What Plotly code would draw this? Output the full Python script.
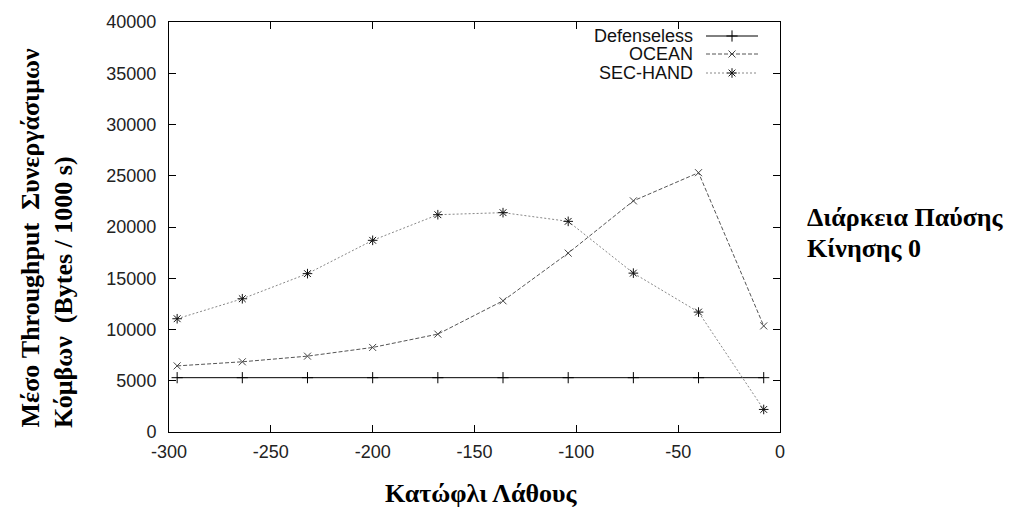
import plotly.graph_objects as go

# ---- data ----
x_vals = [-296, -264, -232, -200, -168, -136, -104, -72, -40, -8]
defenseless = [5300, 5300, 5300, 5300, 5300, 5300, 5300, 5300, 5300, 5300]
ocean = [6450, 6850, 7400, 8250, 9550, 12800, 17450, 22550, 25300, 10350]
sec_hand = [11050, 13000, 15450, 18700, 21200, 21400, 20550, 15500, 11700, 2200]

series_names = ["Defenseless", "OCEAN", "SEC-HAND"]
x_ticks = [-300, -250, -200, -150, -100, -50, 0]
x_tick_labels = ["-300", "-250", "-200", "-150", "-100", "-50", "0"]
y_ticks = [0, 5000, 10000, 15000, 20000, 25000, 30000, 35000, 40000]
y_tick_labels = ["0", "5000", "10000", "15000", "20000", "25000", "30000", "35000", "40000"]

# ---- styles ----
styles = [
    dict(color="#000000", dash="solid", symbol="cross-thin", msize=8, mcolor="#000000"),
    dict(color="#555555", dash="4px,2px", symbol="x-thin", msize=7, mcolor="#444444"),
    dict(color="#888888", dash="2px,2px", symbol="asterisk", msize=8, mcolor="#111111"),
]
series_values = [defenseless, ocean, sec_hand]

W, H = 1010, 507
L, R, T, B = 169, 230, 22, 75
pw = W - L - R
ph = H - T - B

fig = go.Figure()
for name, vals, st in zip(series_names, series_values, styles):
    fig.add_trace(go.Scatter(
        x=x_vals, y=vals, name=name, mode="lines+markers",
        line=dict(color=st["color"], width=1, dash=st["dash"]),
        marker=dict(symbol=st["symbol"], size=st["msize"], color=st["mcolor"],
                    line=dict(color=st["mcolor"], width=1)),
        showlegend=False, cliponaxis=False,
    ))

# ---- custom legend (text left, sample on right, gnuplot style) ----
def px2x(px):
    return (px - L) / pw

def py2y(py):
    return (H - B - py) / ph

row_py = [36, 54, 73]
for name, st, py in zip(series_names, styles, row_py):
    yy = py2y(py)
    fig.add_trace(go.Scatter(
        x=[px2x(706), px2x(758)], y=[yy, yy], xaxis="x2", yaxis="y2",
        mode="lines", line=dict(color=st["color"], width=1, dash=st["dash"]),
        showlegend=False, hoverinfo="skip",
    ))
    fig.add_trace(go.Scatter(
        x=[px2x(732)], y=[yy], xaxis="x2", yaxis="y2", mode="markers",
        marker=dict(symbol=st["symbol"], size=st["msize"], color=st["mcolor"],
                    line=dict(color=st["mcolor"], width=1)),
        showlegend=False, hoverinfo="skip",
    ))
    fig.add_annotation(
        x=px2x(695), y=yy, xref="paper", yref="paper", text=name,
        showarrow=False, xanchor="right", yanchor="middle",
        font=dict(family="Liberation Sans, Arial, sans-serif", size=18, color="#111111"),
    )

axis_common = dict(
    showline=True, linecolor="black", linewidth=1, mirror="ticks",
    ticks="inside", ticklen=7, tickcolor="black", tickwidth=1,
    showgrid=False, zeroline=False,
    tickfont=dict(family="Liberation Sans, Arial, sans-serif", size=18, color="#222222"),
)

fig.update_layout(
    width=W, height=H,
    margin=dict(l=L, r=R, t=T, b=B),
    paper_bgcolor="white", plot_bgcolor="white",
    xaxis=dict(range=[-300, 0], tickvals=x_ticks, ticktext=x_tick_labels,
               ticklabelstandoff=3, **axis_common),
    yaxis=dict(range=[0, 40000], tickvals=y_ticks, ticktext=y_tick_labels,
               ticklabelstandoff=8, **axis_common),
    xaxis2=dict(range=[0, 1], overlaying="x", visible=False, fixedrange=True),
    yaxis2=dict(range=[0, 1], overlaying="y", visible=False, fixedrange=True),
    showlegend=False,
)

title_font = dict(family="Liberation Serif, Times New Roman, serif", size=26, color="black")

# x title
fig.add_annotation(x=px2x(481), y=py2y(494), xref="paper", yref="paper",
                   text="<b>Κατώφλι Λάθους</b>", showarrow=False,
                   xanchor="center", yanchor="middle", font=title_font)
# y title (two lines)
fig.add_annotation(x=px2x(30), y=py2y(430), xref="paper", yref="paper",
                   text="<b>Μέσο Throughput  Συνεργάσιμων</b>", showarrow=False,
                   textangle=-90, xanchor="center", yanchor="bottom", font=title_font)
fig.add_annotation(x=px2x(63), y=py2y(430), xref="paper", yref="paper",
                   text="<b>Κόμβων  (Bytes / 1000 s)</b>", showarrow=False,
                   textangle=-90, xanchor="center", yanchor="bottom", font=title_font)
# right-side note
fig.add_annotation(x=px2x(805), y=py2y(217), xref="paper", yref="paper",
                   text="<b>Διάρκεια Παύσης</b>", showarrow=False,
                   xanchor="left", yanchor="middle", font=title_font)
fig.add_annotation(x=px2x(805), y=py2y(248), xref="paper", yref="paper",
                   text="<b>Κίνησης 0</b>", showarrow=False,
                   xanchor="left", yanchor="middle", font=title_font)

fig.write_html("out.html")
